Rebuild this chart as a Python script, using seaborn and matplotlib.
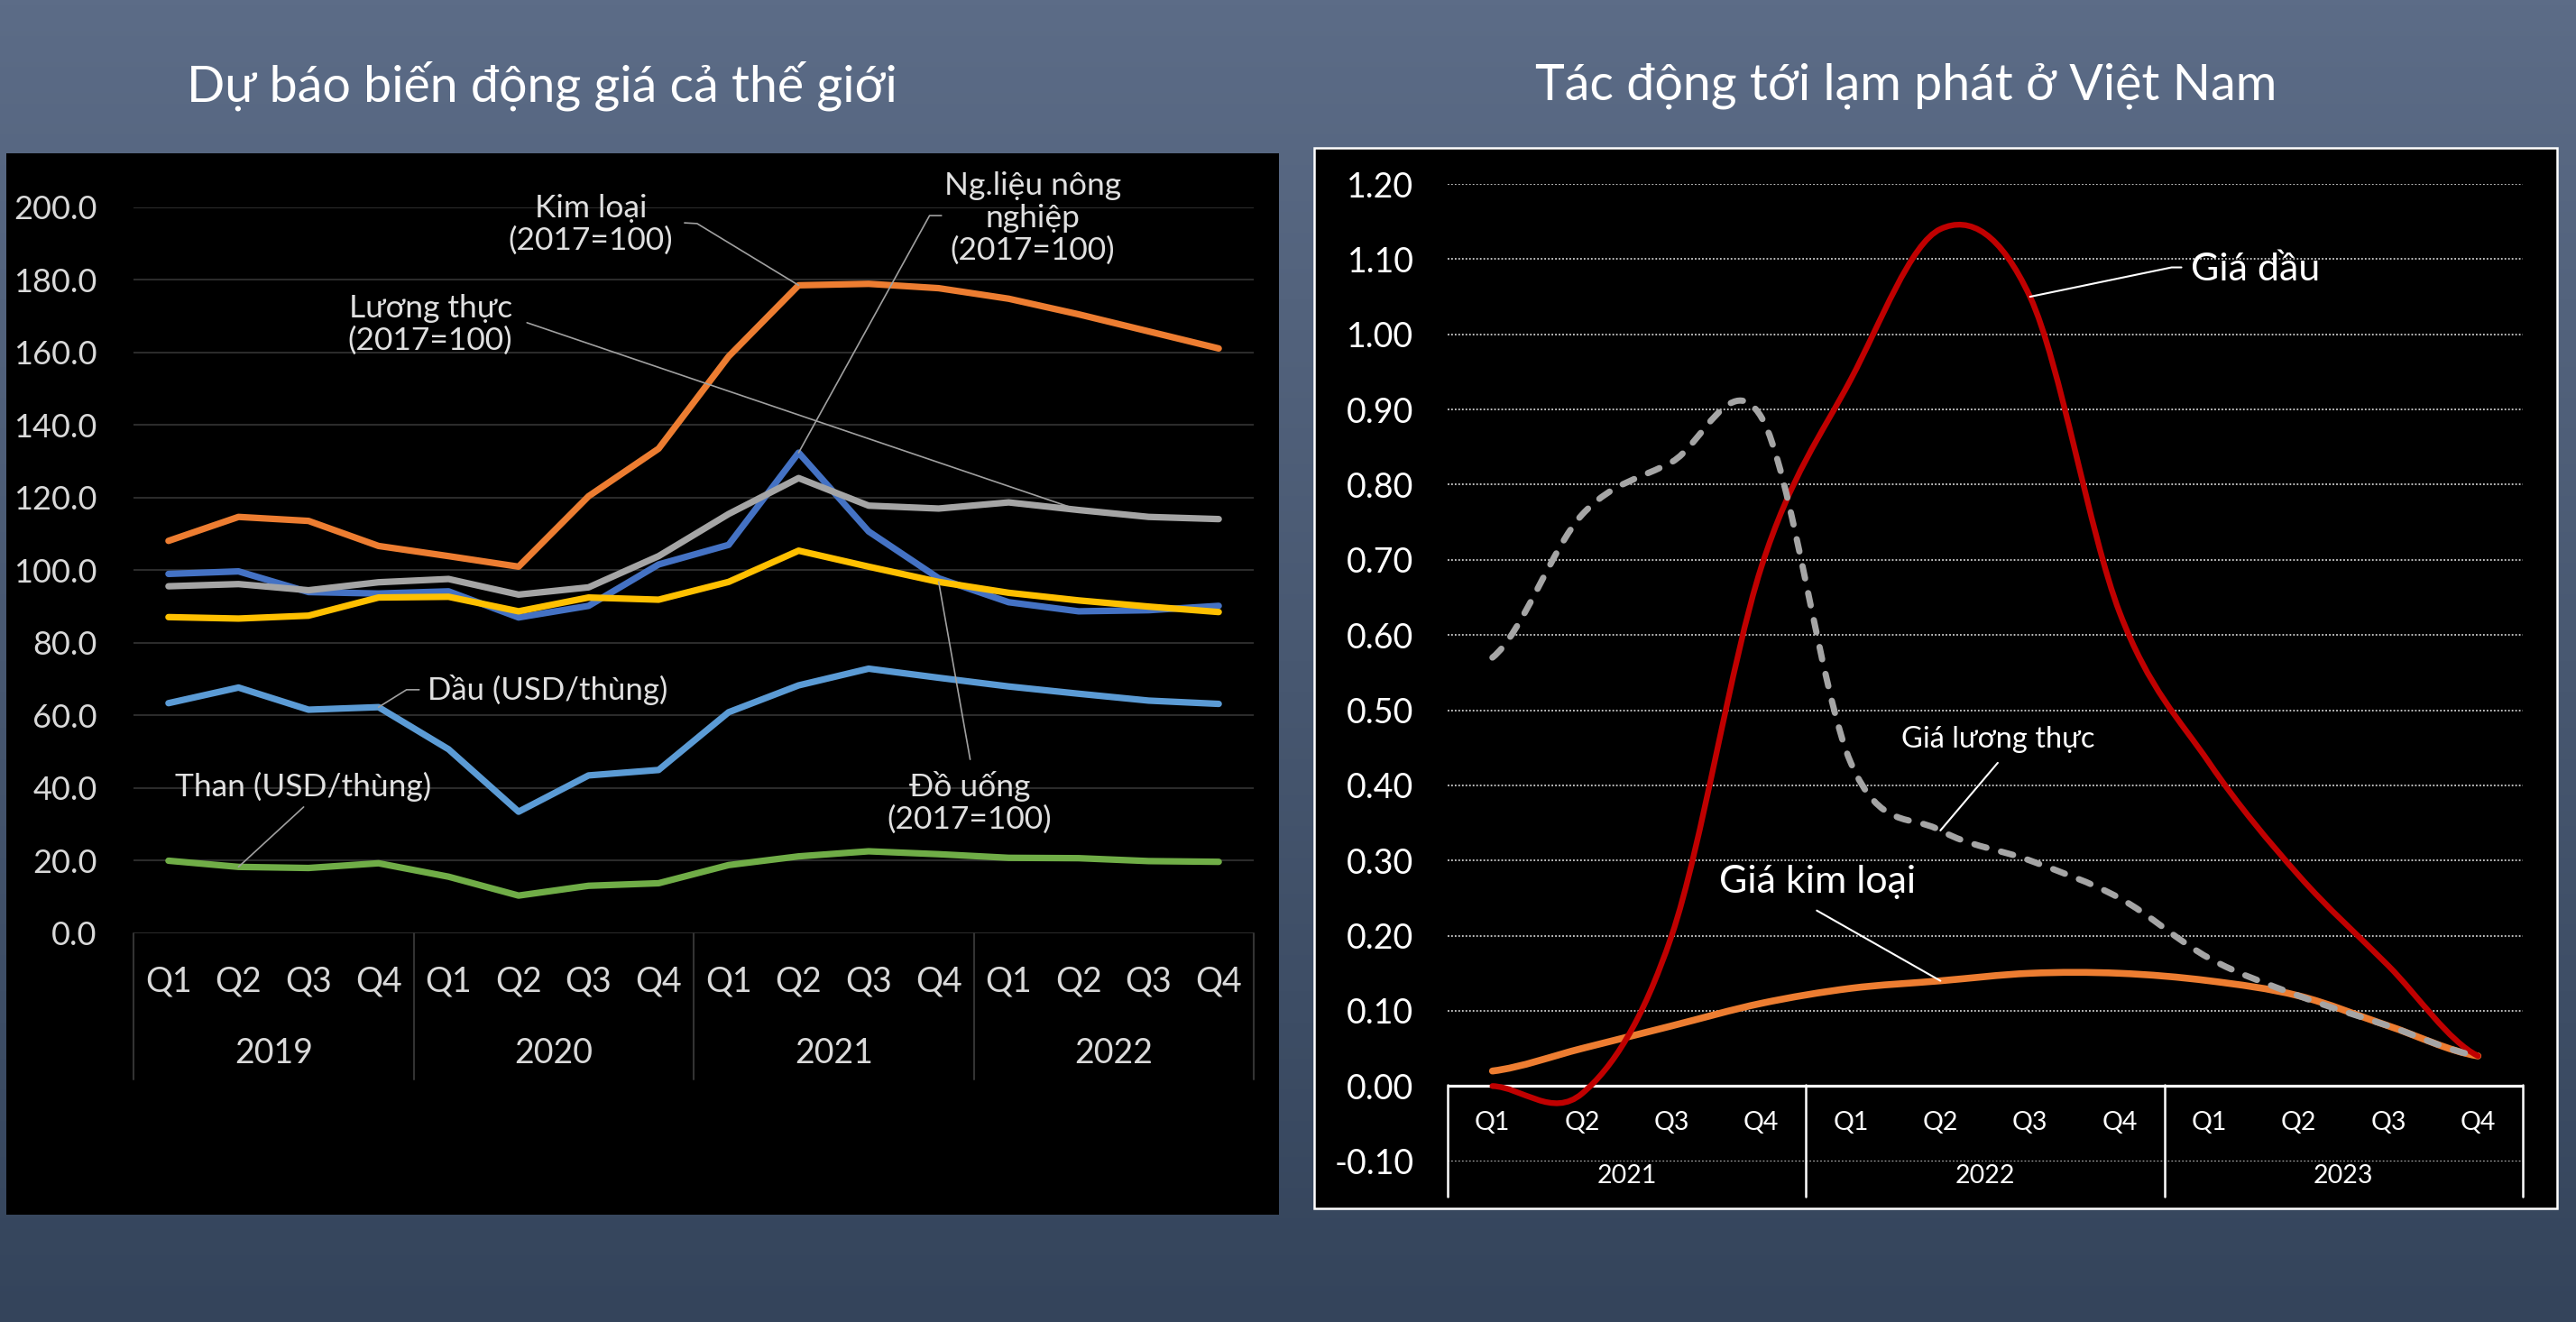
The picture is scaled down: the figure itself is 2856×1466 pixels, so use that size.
import numpy as np
import pandas as pd
import matplotlib
matplotlib.use('Agg')
import matplotlib.pyplot as plt
from matplotlib.path import Path
from matplotlib.patches import PathPatch, Rectangle
from matplotlib.colors import LinearSegmentedColormap
import seaborn as sns

# Dữ liệu biểu đồ trái: dự báo giá thế giới theo quý 2019-2022
quarters = ['Q1', 'Q2', 'Q3', 'Q4']
years_left = ['2019', '2020', '2021', '2022']
kim_loai = [108.1, 114.7, 113.6, 106.7, 103.9, 101.0, 120.4, 133.5,
            158.9, 178.5, 178.9, 177.7, 174.8, 170.5, 165.8, 161.1]
luong_thuc = [95.6, 96.2, 94.5, 96.7, 97.6, 93.3, 95.3, 103.9,
              115.5, 125.4, 117.8, 117.0, 118.7, 116.6, 114.7, 114.1]
nong_nghiep = [99.0, 99.7, 94.0, 93.6, 94.2, 87.0, 90.2, 101.6,
               107.0, 132.4, 110.7, 97.8, 91.2, 88.7, 89.0, 90.2]
do_uong = [87.1, 86.7, 87.5, 92.5, 92.7, 88.7, 92.5, 91.9,
           96.8, 105.4, 101.0, 96.8, 93.8, 91.7, 90.0, 88.5]
dau = [63.4, 67.7, 61.6, 62.3, 50.7, 33.5, 43.5, 45.0,
       60.9, 68.3, 72.9, 70.4, 68.0, 66.0, 64.1, 63.2]
than = [20.0, 18.3, 18.0, 19.3, 15.6, 10.4, 13.1, 13.8,
        18.8, 21.2, 22.6, 21.8, 20.8, 20.7, 19.9, 19.7]

# Dữ liệu biểu đồ phải: tác động tới lạm phát 2021-2023
years_right = ['2021', '2022', '2023']
gia_dau = [0.00, -0.01, 0.20, 0.69, 0.94, 1.14, 1.05, 0.63, 0.43, 0.28, 0.16, 0.04]
gia_luong_thuc = [0.57, 0.76, 0.83, 0.89, 0.43, 0.34, 0.30, 0.25, 0.17, 0.12, 0.08, 0.04]
gia_kim_loai = [0.02, 0.05, 0.08, 0.11, 0.13, 0.14, 0.15, 0.15, 0.14, 0.12, 0.08, 0.04]

sns.set_style('dark')
plt.rcParams['font.family'] = ['Lato', 'Noto Sans', 'DejaVu Sans']

W, H = 2856, 1466
fig = plt.figure(figsize=(W / 100, H / 100), dpi=100)


def fx(px):
    return px / W


def fy(py):
    return 1 - py / H


# nền gradient
bg = fig.add_axes([0, 0, 1, 1], zorder=-5)
cmap = LinearSegmentedColormap.from_list('bg', ['#5C6C87', '#34445B'])
bg.imshow(np.linspace(0, 1, 256).reshape(-1, 1), aspect='auto', cmap=cmap,
          extent=[0, 1, 0, 1])
bg.set_axis_off()

# khung đen
fig.patches.append(Rectangle((fx(7), fy(1347)), fx(1411), 1177 / H,
                             transform=fig.transFigure, facecolor='black',
                             edgecolor='none', zorder=-1))
fig.patches.append(Rectangle((fx(1457), fy(1340)), fx(1378), 1176 / H,
                             transform=fig.transFigure, facecolor='black',
                             edgecolor='white', lw=1.8, zorder=-1))

fig.text(fx(601), fy(95), 'Dự báo biến động giá cả thế giới', color='white',
         fontsize=40, ha='center', va='center')
fig.text(fx(2113), fy(95), 'Tác động tới lạm phát ở Việt Nam', color='white',
         fontsize=40, ha='center', va='center')

# ================= Biểu đồ trái =================
ax1 = fig.add_axes([fx(148), fy(1035), fx(1242), 805.2 / H])
ax1.set_facecolor('none')
x1 = np.arange(len(kim_loai))

series_left = [
    (dau, '#5B9BD5'),
    (than, '#70AD47'),
    (kim_loai, '#ED7D31'),
    (nong_nghiep, '#4472C4'),
    (luong_thuc, '#A5A5A5'),
    (do_uong, '#FFC000'),
]
for k, (vals, col) in enumerate(series_left):
    sns.lineplot(x=x1, y=vals, ax=ax1, color=col, linewidth=5.2,
                 solid_joinstyle='round', solid_capstyle='round', zorder=3 + k)

ax1.set_xlim(-0.5, 15.5)
ax1.set_ylim(0, 200)
ax1.set_yticks(np.arange(0, 201, 20))
ax1.set_yticklabels([f'{v:.1f}' for v in np.arange(0, 201, 20)])
ax1.tick_params(axis='y', length=0, pad=29, labelsize=26, labelcolor='#D9D9D9')
ax1.set_xticks([])
ax1.grid(axis='y', color='#2B2B2B', lw=1.5)
ax1.grid(axis='x', visible=False)
ax1.set_xlabel('')
ax1.set_ylabel('')
for s in ax1.spines.values():
    s.set_visible(False)

tr1 = ax1.get_xaxis_transform()
for i in range(16):
    ax1.text(i, -0.067, quarters[i % 4], transform=tr1, ha='center', va='center',
             fontsize=27, color='#D9D9D9')
for g, yr in enumerate(years_left):
    ax1.text(4 * g + 1.5, -0.165, yr, transform=tr1, ha='center', va='center',
             fontsize=27, color='#D9D9D9')
for xs in [-0.5, 3.5, 7.5, 11.5, 15.5]:
    ax1.plot([xs, xs], [0, -0.201], transform=tr1, color='#333333', lw=1.5,
             clip_on=False)

lead1 = dict(color='#A0A0A0', lw=1.2, zorder=10, clip_on=False)
txt1 = dict(fontsize=25.5, color='#E0E0E0', ha='center', va='center',
            linespacing=1.15, zorder=11)
ax1.text(6.03, 195.2, 'Kim loại\n(2017=100)', **txt1)
ax1.plot([7.37, 7.55, 9], [195.7, 195.5, kim_loai[9]], **lead1)
ax1.text(3.74, 167.7, 'Lương thực\n(2017=100)', **txt1)
ax1.plot([5.12, 13], [168.2, luong_thuc[13]], **lead1)
ax1.text(12.34, 197.0, 'Ng.liệu nông\nnghiệp\n(2017=100)', **txt1)
ax1.plot([11.04, 10.87, 9], [197.7, 197.7, nong_nghiep[9]], **lead1)
ax1.text(11.44, 36.0, 'Đồ uống\n(2017=100)', **txt1)
ax1.plot([11.45, 11], [47.9, do_uong[11]], **lead1)
ax1.text(3.70, 67.1, 'Dầu (USD/thùng)', fontsize=25, color='#E0E0E0',
         ha='left', va='center', zorder=11)
ax1.plot([3.58, 3.40, 3], [67.1, 67.1, dau[3]], **lead1)
ax1.text(1.92, 40.5, 'Than (USD/thùng)', **txt1)
ax1.plot([1.93, 1], [34.8, than[1]], **lead1)

# ================= Biểu đồ phải =================
ax2 = fig.add_axes([fx(1605), fy(1287.7), fx(1192), 1083.7 / H])
ax2.set_facecolor('none')


def smooth_path(vals):
    # đường cong mượt kiểu Excel qua các điểm dữ liệu
    ys = np.asarray(vals, dtype=float)
    xs = np.arange(len(ys), dtype=float)
    pad = np.r_[ys[0], ys, ys[-1]]
    slope = (pad[2:] - pad[:-2]) / 2
    verts = [(xs[0], ys[0])]
    codes = [Path.MOVETO]
    for i in range(len(ys) - 1):
        verts += [(xs[i] + 1 / 3, ys[i] + slope[i] / 3),
                  (xs[i + 1] - 1 / 3, ys[i + 1] - slope[i + 1] / 3),
                  (xs[i + 1], ys[i + 1])]
        codes += [Path.CURVE4] * 3
    return Path(verts, codes)


ax2.add_patch(PathPatch(smooth_path(gia_kim_loai), fill=False, edgecolor='#ED7D31',
                        lw=5.5, capstyle='round', joinstyle='round', zorder=4))
ax2.add_patch(PathPatch(smooth_path(gia_dau), fill=False, edgecolor='#C00000',
                        lw=4.6, capstyle='round', joinstyle='round', zorder=5))
ax2.add_patch(PathPatch(smooth_path(gia_luong_thuc), fill=False, edgecolor='#A5A5A5',
                        lw=5.0, linestyle=(0, (2.0, 2.4)), capstyle='round',
                        joinstyle='round', zorder=6))

ax2.set_xlim(-0.5, 11.5)
ax2.set_ylim(-0.1, 1.2)
yt = np.round(np.arange(-0.1, 1.201, 0.1), 2)
ax2.set_yticks(yt)
ax2.set_yticklabels([f'{v:.2f}' for v in yt])
ax2.tick_params(axis='y', length=0, pad=27, labelsize=27, labelcolor='white')
ax2.set_xticks([])
ax2.grid(axis='y', color='#D0D0D0', lw=1.3, linestyle=(0, (1, 1.2)))
ax2.grid(axis='x', visible=False)
for s in ax2.spines.values():
    s.set_visible(False)
ax2.axhline(0, color='white', lw=2.3, zorder=3)

tr2 = ax2.get_xaxis_transform()
for i in range(12):
    ax2.text(i, 0.0398, quarters[i % 4], transform=tr2, ha='center', va='center',
             fontsize=20.5, color='white')
for g, yr in enumerate(years_right):
    ax2.text(4 * g + 1.5, -0.0155, yr, transform=tr2, ha='center', va='center',
             fontsize=20.5, color='white')
for xs in [-0.5, 3.5, 7.5, 11.5]:
    ax2.plot([xs, xs], [0.0779, -0.0363], transform=tr2, color='white', lw=1.8,
             clip_on=False)

lead2 = dict(color='white', lw=1.5, zorder=10)
ax2.text(7.80, 1.086, 'Giá dầu', fontsize=31, color='white', ha='left',
         va='center', zorder=11)
ax2.plot([7.69, 7.58, 6], [1.089, 1.089, gia_dau[6]], **lead2)
ax2.text(3.63, 0.271, 'Giá kim loại', fontsize=31, color='white', ha='center',
         va='center', zorder=11)
ax2.plot([3.62, 5], [0.2335, gia_kim_loai[5]], **lead2)
ax2.text(5.64, 0.461, 'Giá lương thực', fontsize=23.5, color='white', ha='center',
         va='center', zorder=11)
ax2.plot([5.64, 5], [0.43, gia_luong_thuc[5]], **lead2)

fig.savefig('out.png', dpi=100)
